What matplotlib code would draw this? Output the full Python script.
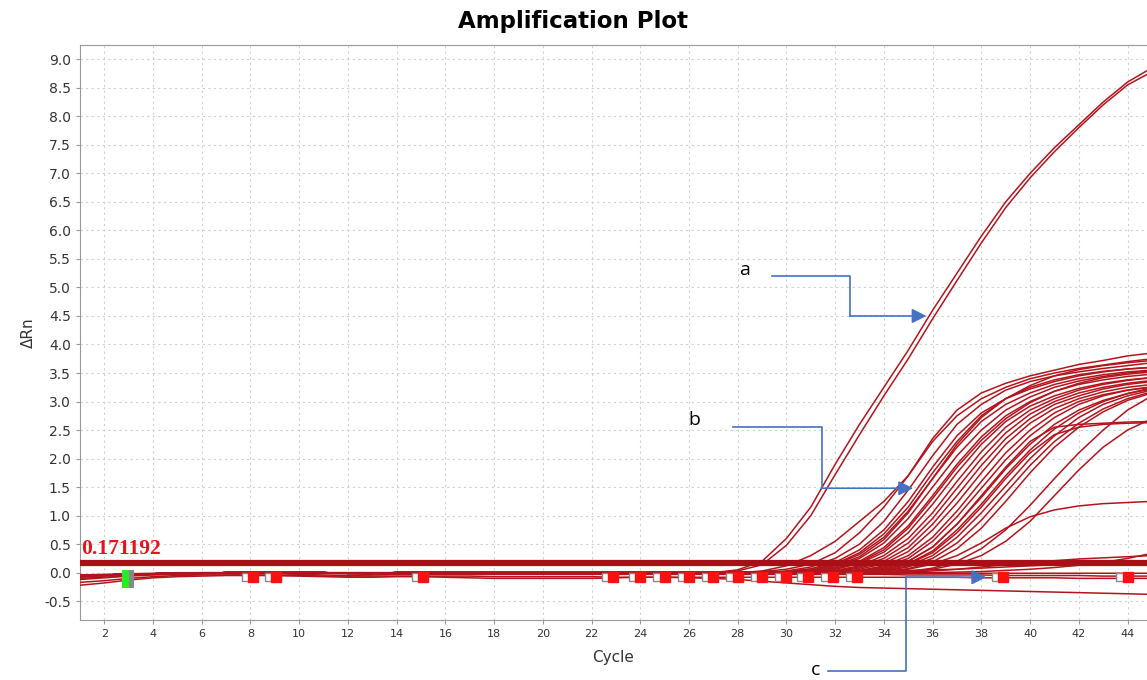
import numpy as np
import matplotlib.pyplot as plt

# cycles 1..45
cycles = np.arange(1, 46)

# shared baseline for cycles 1..27 of the amplifying wells
baseline = [-0.05, -0.04, -0.03, -0.02, -0.01, -0.01, 0.0, 0.0, 0.0, 0.0, 0.0, -0.01, -0.01,
            0.0, 0.0, 0.0, 0.0, 0.0, 0.0, 0.0, 0.0, 0.0, 0.0, 0.0, 0.0, 0.0, 0.0]

# cycles 28..45 of the two high wells (a)
curve_a = [
    [0.05, 0.2, 0.6, 1.15, 1.9, 2.6, 3.25, 3.9, 4.6, 5.25, 5.9, 6.5, 7.0, 7.45, 7.85, 8.25, 8.6, 8.85],
    [0.03, 0.14, 0.48, 1.0, 1.72, 2.42, 3.1, 3.75, 4.45, 5.12, 5.78, 6.4, 6.92, 7.38, 7.8, 8.2, 8.55, 8.78],
]

# cycles 28..45 of the main group (b)
curve_b = [
    [0.0, 0.03, 0.12, 0.3, 0.55, 0.9, 1.25, 1.7, 2.35, 2.85, 3.15, 3.32, 3.45, 3.55, 3.65, 3.72, 3.8, 3.85],
    [0.0, 0.02, 0.06, 0.15, 0.35, 0.7, 1.15, 1.7, 2.3, 2.75, 3.05, 3.25, 3.4, 3.5, 3.58, 3.64, 3.7, 3.75],
    [0.0, 0.0, 0.03, 0.1, 0.25, 0.5, 0.9, 1.45, 2.05, 2.6, 2.95, 3.2, 3.35, 3.45, 3.52, 3.58, 3.63, 3.68],
    [0.0, 0.0, 0.02, 0.07, 0.18, 0.4, 0.75, 1.25, 1.85, 2.4, 2.8, 3.05, 3.22, 3.35, 3.45, 3.52, 3.57, 3.6],
    [0.0, 0.0, 0.0, 0.05, 0.14, 0.32, 0.62, 1.08, 1.65, 2.2, 2.65, 2.95, 3.15, 3.3, 3.4, 3.47, 3.52, 3.55],
    [0.0, 0.0, 0.0, 0.03, 0.1, 0.25, 0.52, 0.95, 1.5, 2.05, 2.5, 2.85, 3.08, 3.25, 3.36, 3.44, 3.5, 3.54],
    [0.0, 0.0, 0.0, 0.02, 0.08, 0.2, 0.44, 0.82, 1.35, 1.9, 2.38, 2.75, 3.0, 3.18, 3.3, 3.38, 3.44, 3.48],
    [0.0, 0.0, 0.0, 0.01, 0.06, 0.16, 0.36, 0.7, 1.2, 1.75, 2.25, 2.65, 2.92, 3.1, 3.23, 3.32, 3.38, 3.42],
    [0.0, 0.0, 0.0, 0.0, 0.04, 0.12, 0.3, 0.6, 1.05, 1.6, 2.12, 2.55, 2.85, 3.05, 3.2, 3.3, 3.37, 3.42],
    [0.0, 0.0, 0.0, 0.0, 0.03, 0.1, 0.25, 0.52, 0.95, 1.48, 2.0, 2.45, 2.78, 3.0, 3.15, 3.25, 3.32, 3.37],
    [0.0, 0.0, 0.0, 0.0, 0.02, 0.08, 0.2, 0.44, 0.85, 1.35, 1.88, 2.35, 2.7, 2.95, 3.1, 3.22, 3.3, 3.35],
    [0.0, 0.0, 0.0, 0.0, 0.01, 0.06, 0.16, 0.37, 0.75, 1.22, 1.75, 2.25, 2.62, 2.88, 3.05, 3.17, 3.25, 3.3],
    [0.0, 0.0, 0.0, 0.0, 0.0, 0.04, 0.12, 0.3, 0.62, 1.08, 1.6, 2.1, 2.5, 2.8, 3.0, 3.12, 3.2, 3.25],
    [0.0, 0.0, 0.0, 0.0, 0.0, 0.03, 0.1, 0.25, 0.55, 0.98, 1.48, 1.98, 2.4, 2.72, 2.95, 3.1, 3.2, 3.26],
    [0.0, 0.0, 0.0, 0.0, 0.0, 0.02, 0.08, 0.2, 0.45, 0.85, 1.32, 1.82, 2.25, 2.6, 2.85, 3.02, 3.14, 3.22],
    [0.0, 0.0, 0.0, 0.0, 0.0, 0.01, 0.06, 0.16, 0.38, 0.75, 1.2, 1.7, 2.15, 2.52, 2.8, 3.0, 3.14, 3.24],
    [0.0, 0.0, 0.0, 0.0, 0.0, 0.0, 0.04, 0.12, 0.3, 0.62, 1.05, 1.52, 2.0, 2.4, 2.72, 2.95, 3.1, 3.2],
    [0.0, 0.0, 0.0, 0.0, 0.0, 0.0, 0.03, 0.1, 0.25, 0.52, 0.92, 1.4, 1.88, 2.3, 2.62, 2.87, 3.05, 3.17],
    [0.0, 0.0, 0.0, 0.0, 0.0, 0.0, 0.02, 0.07, 0.19, 0.42, 0.78, 1.25, 1.75, 2.2, 2.55, 2.82, 3.02, 3.15],
    [0.0, 0.0, 0.0, 0.0, 0.0, 0.02, 0.08, 0.2, 0.45, 0.85, 1.35, 1.85, 2.3, 2.55, 2.6, 2.62, 2.64, 2.65],
    [0.0, 0.0, 0.0, 0.0, 0.0, 0.01, 0.05, 0.15, 0.35, 0.7, 1.15, 1.65, 2.1, 2.42, 2.55, 2.6, 2.62, 2.63],
    [0.0, 0.0, 0.0, 0.0, 0.0, 0.0, 0.0, 0.02, 0.08, 0.2, 0.42, 0.75, 1.18, 1.65, 2.1, 2.5, 2.85, 3.1],
    [0.0, 0.0, 0.0, 0.0, 0.0, 0.0, 0.0, 0.02, 0.06, 0.15, 0.3, 0.55, 0.9, 1.35, 1.8, 2.2, 2.5, 2.7],
    [0.0, 0.0, 0.0, 0.0, 0.0, 0.0, 0.02, 0.06, 0.15, 0.3, 0.52, 0.78, 0.98, 1.1, 1.17, 1.21, 1.23, 1.25],
    [0.0, 0.0, 0.0, 0.0, 0.0, 0.0, 0.0, 0.01, 0.03, 0.06, 0.1, 0.14, 0.18, 0.21, 0.24, 0.26, 0.28, 0.3],
    [0.0, 0.0, 0.01, 0.04, 0.12, 0.28, 0.58, 1.05, 1.65, 2.25, 2.72, 3.05, 3.28, 3.45, 3.56, 3.63, 3.68, 3.72],
    [0.0, 0.0, 0.01, 0.05, 0.15, 0.35, 0.68, 1.15, 1.75, 2.3, 2.75, 3.05, 3.25, 3.38, 3.47, 3.53, 3.57, 3.6],
    [0.0, 0.0, 0.0, 0.02, 0.07, 0.18, 0.4, 0.78, 1.3, 1.85, 2.32, 2.7, 2.98, 3.18, 3.32, 3.42, 3.48, 3.52],
]

# non-amplifying wells, all 45 cycles (c)
curve_flat = [
    [-0.22, -0.18, -0.13, -0.09, -0.07, -0.06, -0.05, -0.05, -0.05, -0.05, -0.06, -0.06, -0.06, -0.06, -0.06,
     -0.06, -0.06, -0.07, -0.07, -0.07, -0.07, -0.07, -0.08, -0.08, -0.08, -0.09, -0.1, -0.12, -0.15, -0.18,
     -0.21, -0.24, -0.26, -0.27, -0.28, -0.29, -0.3, -0.31, -0.32, -0.33, -0.34, -0.35, -0.36, -0.37, -0.38],
    [-0.17, -0.14, -0.1, -0.07, -0.05, -0.04, -0.04, -0.04, -0.05, -0.06, -0.07, -0.08, -0.08, -0.07, -0.07,
     -0.08, -0.09, -0.1, -0.1, -0.1, -0.1, -0.1, -0.09, -0.08, -0.08, -0.08, -0.08, -0.08, -0.08, -0.08,
     -0.08, -0.08, -0.08, -0.08, -0.08, -0.08, -0.08, -0.09, -0.09, -0.09, -0.09, -0.1, -0.1, -0.1, -0.1],
    [-0.12, -0.09, -0.06, -0.04, -0.03, -0.02, -0.02, -0.02, -0.02, -0.03, -0.04, -0.05, -0.04, -0.03, -0.03,
     -0.03, -0.03, -0.03, -0.03, -0.03, -0.03, -0.03, -0.03, -0.03, -0.03, -0.03, -0.03, -0.03, -0.03, -0.03,
     -0.03, -0.03, -0.03, -0.03, -0.04, -0.04, -0.04, -0.04, -0.05, -0.05, -0.05, -0.05, -0.06, -0.06, -0.06],
    [-0.08, -0.06, -0.04, -0.02, -0.01, 0.0, 0.0, 0.0, 0.0, 0.0, 0.0, 0.0, 0.0, 0.0, 0.0,
     0.0, 0.0, 0.0, 0.0, 0.0, 0.0, 0.0, 0.0, 0.0, 0.0, 0.0, 0.0, 0.0, 0.0, 0.01,
     0.01, 0.02, 0.02, 0.03, 0.04, 0.05, 0.06, 0.08, 0.1, 0.12, 0.14, 0.16, 0.18, 0.19, 0.2],
    [-0.04, -0.03, -0.02, -0.01, 0.0, 0.0, 0.0, 0.0, 0.0, 0.0, 0.0, 0.0, 0.0, 0.0, 0.0,
     0.0, 0.0, 0.0, 0.0, 0.0, 0.0, 0.0, 0.0, 0.0, 0.0, 0.0, 0.0, 0.0, 0.0, 0.0,
     0.0, 0.0, 0.0, 0.0, 0.0, 0.0, 0.01, 0.02, 0.04, 0.06, 0.09, 0.13, 0.18, 0.25, 0.34],
    [-0.1, -0.08, -0.05, -0.03, -0.02, -0.01, -0.01, -0.01, -0.01, -0.01, -0.01, -0.02, -0.02, -0.01, -0.01,
     -0.01, -0.01, -0.01, -0.01, -0.01, -0.01, -0.01, -0.01, -0.01, -0.01, -0.01, -0.01, -0.01, -0.01, -0.01,
     -0.01, -0.01, -0.01, -0.01, -0.01, -0.01, -0.01, -0.01, -0.01, -0.01, -0.01, -0.01, -0.01, -0.01, -0.01],
]

threshold = 0.171192

# baseline start / end flags (cycle of the red flag)
flag_cycles = [8.1, 9.05, 15.1, 22.9, 24.0, 25.0, 26.0, 27.0, 28.0, 29.0, 30.0, 30.9, 31.9, 32.9, 38.9, 44.0]

line_red = '#b3141c'
arrow_blue = '#4472c4'

plt.rcParams['font.family'] = ['DejaVu Sans']
fig = plt.figure(figsize=(11.47, 6.80), dpi=100)
ax = fig.add_axes([0.0697, 0.0882, 0.9303, 0.8456])

ax.set_xlim(1, 44.8)
ax.set_ylim(-0.83, 9.25)

for vals in curve_flat:
    ax.plot(cycles, vals, color=line_red, lw=1.1, zorder=3)
for vals in curve_b:
    ax.plot(cycles, baseline + vals, color=line_red, lw=1.1, zorder=3)
for vals in curve_a:
    ax.plot(cycles, baseline + vals, color=line_red, lw=1.1, zorder=3)

# threshold
ax.axhline(threshold, color='#a80f16', lw=4.5, zorder=4)
ax.text(1.05, threshold + 0.06, f'{threshold:.6f}', color='#e8141c', fontsize=15.5,
        fontweight='bold', family='Liberation Serif', ha='left', va='bottom', zorder=5)

# baseline flags
flag_y = -0.08
ax.plot(np.array(flag_cycles) - 0.3, [flag_y] * len(flag_cycles), ls='none', marker='s', ms=5.5,
        mfc='white', mec='#888888', mew=1.0, zorder=5)
ax.plot(flag_cycles, [flag_y] * len(flag_cycles), ls='none', marker='s', ms=6.5,
        mfc='#ff1010', mec='#ff1010', zorder=6)
ax.bar(2.86, 0.3, bottom=-0.26, width=0.3, color='#22ee22', zorder=6)
ax.bar(3.12, 0.3, bottom=-0.26, width=0.2, color='#888888', zorder=6)

# annotations a, b, c
notes = {
    'a': ((28.3, 5.3), [(29.4, 5.2), (32.6, 5.2), (32.6, 4.5)], (35.75, 4.5)),
    'b': ((26.2, 2.67), [(27.8, 2.55), (31.47, 2.55), (31.47, 1.48)], (35.2, 1.48)),
    'c': ((31.2, -1.70), [(31.7, -1.72), (34.9, -1.72), (34.9, -0.08)], (38.2, -0.08)),
}
for lab, (txt_xy, path, end) in notes.items():
    ax.text(txt_xy[0], txt_xy[1], lab, fontsize=14, family='Open Sans', ha='center', va='center',
            color='black', zorder=7, clip_on=False)
    xs = [p[0] for p in path]
    ys = [p[1] for p in path]
    ax.plot(xs, ys, color=arrow_blue, lw=1.2, zorder=7, clip_on=False)
    ax.annotate('', xy=end, xytext=path[-1],
                arrowprops=dict(arrowstyle='-|>', color=arrow_blue, lw=1.2, mutation_scale=22,
                                shrinkA=0, shrinkB=0), zorder=7, annotation_clip=False)

# axes styling
ax.set_xticks(np.arange(2, 45, 2))
ax.set_yticks(np.arange(-0.5, 9.01, 0.5))
ax.set_yticklabels([f'{v:.1f}' for v in np.arange(-0.5, 9.01, 0.5)])
ax.tick_params(axis='x', labelsize=8, colors='#333333', length=3, color='#999999')
ax.tick_params(axis='y', labelsize=10, colors='#333333', length=3, color='#999999')
ax.grid(True, color='#d0d0d0', ls=(0, (2, 3)), lw=0.8, zorder=0)
for side in ['left', 'bottom', 'top']:
    ax.spines[side].set_color('#999999')
ax.spines['right'].set_visible(False)

ax.set_xlabel('Cycle', fontsize=11, color='#333333', labelpad=8)
ax.set_ylabel('ΔRn', fontsize=11, color='#333333', labelpad=6)
fig.text(0.5, 0.968, 'Amplification Plot', fontsize=16.5, fontweight='bold', ha='center', va='center')

fig.savefig('out.png', dpi=100)
